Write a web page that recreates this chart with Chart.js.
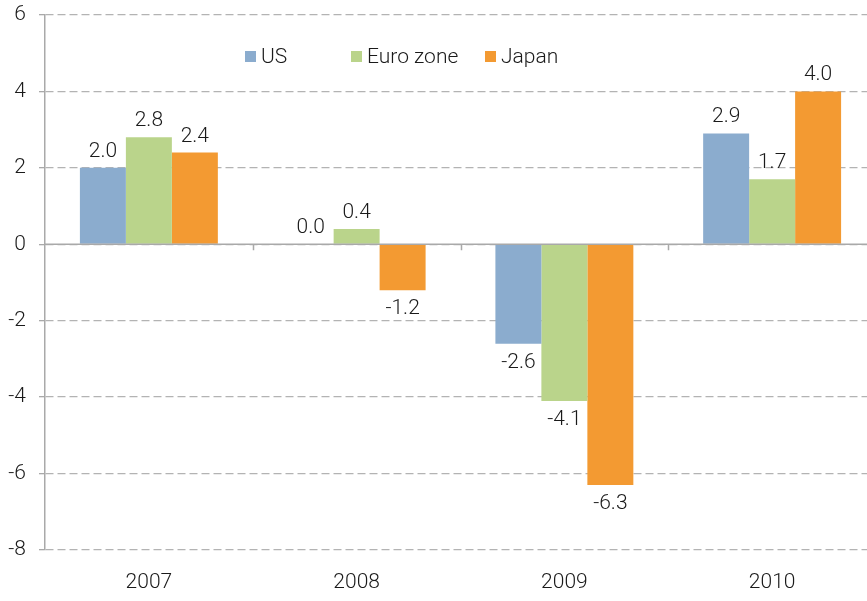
<!DOCTYPE html>
<html>
<head>
<meta charset="utf-8">
<script src="https://cdn.jsdelivr.net/npm/chart.js@4.4.0/dist/chart.umd.min.js"></script>
<style>
  html, body { margin: 0; padding: 0; background: #fff; }
  #wrap { position: relative; width: 867px; height: 601px; overflow: hidden; }
  #legend { position: absolute; top: 43px; left: 245px; font: 300 21px Roboto, sans-serif; color: #1a1a1a; }
  .item { position: absolute; top: 0; white-space: nowrap; display: flex; align-items: center; height: 26px; }
  .box { width: 11px; height: 11px; margin-right: 5px; }
</style>
</head>
<body>
<div id="wrap">
  <canvas id="chart" width="876" height="601"></canvas>
  <div id="legend"></div>
</div>
<script>
const years = ['2007', '2008', '2009', '2010'];
const usValues = [2.0, 0.0, -2.6, 2.9];
const euroValues = [2.8, 0.4, -4.1, 1.7];
const japanValues = [2.4, -1.2, -6.3, 4.0];
const seriesNames = ['US', 'Euro zone', 'Japan'];
const seriesColors = ['#8BACCE', '#BAD48B', '#F39A32'];
const legendLeft = [0, 106, 240];

// legend sits inside the plot, like the original
const legend = document.getElementById('legend');
seriesNames.forEach((name, i) => {
  const item = document.createElement('div');
  item.className = 'item';
  item.style.left = legendLeft[i] + 'px';
  item.innerHTML = `<span class="box" style="background:${seriesColors[i]}"></span><span>${name}</span>`;
  legend.appendChild(item);
});

// solid zero line with little ticks at the category boundaries
const zeroAxis = {
  id: 'zeroAxis',
  afterDatasetsDraw(chart) {
    const { ctx, chartArea, scales } = chart;
    const y0 = scales.y.getPixelForValue(0);
    const step = (chartArea.right - chartArea.left) / years.length;
    ctx.save();
    ctx.strokeStyle = '#a9a9a9';
    ctx.lineWidth = 1.5;
    ctx.beginPath();
    ctx.moveTo(chartArea.left, y0);
    ctx.lineTo(chartArea.right, y0);
    for (let i = 1; i < years.length; i++) {
      const x = Math.round(chartArea.left + step * i) + 0.5;
      ctx.moveTo(x, y0);
      ctx.lineTo(x, y0 + 6);
    }
    ctx.stroke();
    ctx.restore();
  }
};

const valueLabels = {
  id: 'valueLabels',
  afterDatasetsDraw(chart) {
    const { ctx } = chart;
    ctx.save();
    ctx.font = '300 21px Roboto, sans-serif';
    ctx.fillStyle = '#1a1a1a';
    ctx.textAlign = 'center';
    ctx.textBaseline = 'alphabetic';
    chart.data.datasets.forEach((ds, di) => {
      chart.getDatasetMeta(di).data.forEach((bar, i) => {
        const v = ds.data[i];
        const y = v >= 0 ? bar.y - 11 : bar.y + 24;
        ctx.fillText(v.toFixed(1), bar.x, y);
      });
    });
    ctx.restore();
  }
};

const tickFont = { family: 'Roboto', size: 21, weight: '300' };

new Chart(document.getElementById('chart'), {
  type: 'bar',
  data: {
    labels: years,
    datasets: [
      { label: seriesNames[0], data: usValues, backgroundColor: seriesColors[0] },
      { label: seriesNames[1], data: euroValues, backgroundColor: seriesColors[1] },
      { label: seriesNames[2], data: japanValues, backgroundColor: seriesColors[2] }
    ]
  },
  options: {
    responsive: false,
    animation: false,
    layout: { padding: { top: 15, right: 0, bottom: 0, left: 0 } },
    datasets: { bar: { categoryPercentage: 0.664, barPercentage: 1 } },
    plugins: { legend: { display: false }, tooltip: { enabled: false } },
    scales: {
      x: {
        grid: { display: false, drawTicks: false },
        border: { display: false },
        ticks: { color: '#1a1a1a', font: tickFont, padding: 20 },
        afterFit(scale) { scale.height = 51; }
      },
      y: {
        min: -8,
        max: 6,
        ticks: { stepSize: 2, color: '#1a1a1a', font: tickFont, padding: 13 },
        grid: { color: '#b3b3b3', lineWidth: 1.3, tickLength: 6, tickColor: '#a9a9a9', tickBorderDash: [] },
        border: { display: true, color: '#a9a9a9', width: 1.5, dash: [8, 4] },
        afterFit(scale) {
          scale.width = 45;
          scale.paddingTop = 0;
          scale.paddingBottom = 0;
        }
      }
    }
  },
  plugins: [zeroAxis, valueLabels]
});
</script>
</body>
</html>
